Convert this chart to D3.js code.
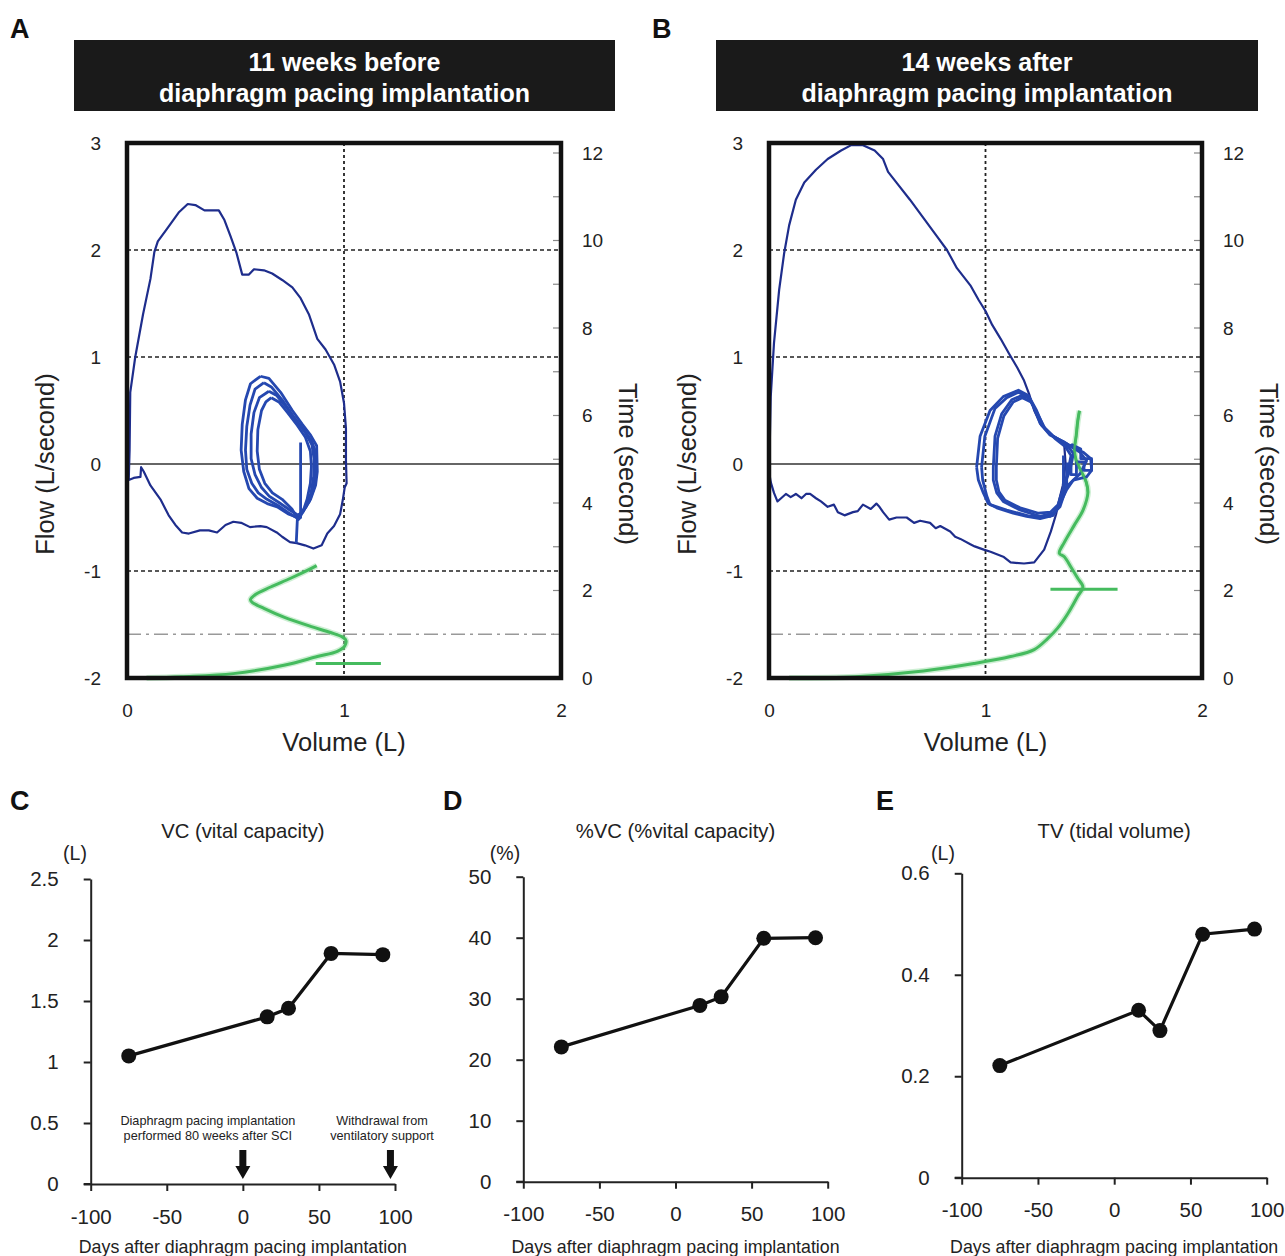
<!DOCTYPE html>
<html><head><meta charset="utf-8">
<script src="https://cdn.jsdelivr.net/npm/d3@7"></script>
<style>
body{margin:0;background:#fff}
svg{display:block}
text{font-family:"Liberation Sans",Arial,Helvetica,sans-serif;fill:#222}
</style>
</head><body>
<svg id="c" width="1285" height="1256"></svg>
<script>
// ---------- DATA ----------
const volTicks = [0, 1, 2];
const flowTicks = [-2, -1, 0, 1, 2, 3];
const timeTicks = [0, 2, 4, 6, 8, 10, 12];
const timeMinorTicks = [1,2,3,4,5,6,7,8,9,10,11,12];
const flowDashed = [-1, 1, 2];
const volDotted = [1];
const timeDashDot = [1];

// Panel A (11 weeks before) : [volume L, flow L/s]
const bigLoopA = [[0.008,-0.15],[0.012,0.13],[0.015,0.67],[0.038,1.00],[0.074,1.40],[0.108,1.73],[0.126,1.98],[0.142,2.08],[0.185,2.20],[0.238,2.35],[0.28,2.43],[0.315,2.42],[0.357,2.37],[0.423,2.37],[0.449,2.28],[0.477,2.13],[0.505,1.97],[0.531,1.77],[0.562,1.77],[0.585,1.82],[0.631,1.81],[0.669,1.78],[0.715,1.72],[0.762,1.65],[0.80,1.55],[0.838,1.40],[0.877,1.17],[0.915,1.07],[0.954,0.93],[0.982,0.77],[1.00,0.57],[1.009,0.33],[1.009,0.03],[1.012,-0.18],[1.003,-0.22],[0.995,-0.33],[0.982,-0.47],[0.954,-0.58],[0.923,-0.65],[0.897,-0.76],[0.859,-0.79],[0.82,-0.76],[0.782,-0.74],[0.751,-0.73],[0.715,-0.68],[0.69,-0.64],[0.644,-0.59],[0.615,-0.58],[0.567,-0.59],[0.526,-0.55],[0.49,-0.54],[0.454,-0.57],[0.415,-0.64],[0.377,-0.62],[0.336,-0.62],[0.285,-0.65],[0.254,-0.64],[0.223,-0.57],[0.192,-0.48],[0.154,-0.33],[0.108,-0.20],[0.077,-0.07],[0.065,-0.03],[0.062,-0.12],[0.031,-0.13],[0.008,-0.15]];
const tidalA1 = [[0.615,0.82],[0.654,0.80],[0.708,0.67],[0.762,0.50],[0.808,0.37],[0.846,0.27],[0.874,0.17],[0.877,-0.07],[0.869,-0.20],[0.846,-0.33],[0.815,-0.43],[0.785,-0.50],[0.746,-0.47],[0.692,-0.40],[0.646,-0.37],[0.60,-0.32],[0.562,-0.23],[0.538,-0.07],[0.526,0.13],[0.531,0.37],[0.546,0.60],[0.569,0.75],[0.615,0.82]];
const tidalA2 = [[0.631,0.76],[0.665,0.72],[0.715,0.60],[0.765,0.45],[0.81,0.33],[0.85,0.22],[0.868,0.12],[0.87,-0.08],[0.862,-0.22],[0.84,-0.35],[0.81,-0.45],[0.78,-0.50],[0.74,-0.45],[0.69,-0.38],[0.645,-0.33],[0.605,-0.27],[0.575,-0.18],[0.552,-0.05],[0.546,0.13],[0.552,0.35],[0.567,0.55],[0.59,0.70],[0.631,0.76]];
const tidalA3 = [[0.654,0.68],[0.69,0.64],[0.735,0.53],[0.78,0.40],[0.82,0.30],[0.852,0.18],[0.862,0.05],[0.86,-0.12],[0.848,-0.27],[0.825,-0.40],[0.79,-0.48],[0.75,-0.43],[0.70,-0.36],[0.655,-0.30],[0.62,-0.22],[0.59,-0.10],[0.572,0.05],[0.572,0.28],[0.585,0.48],[0.61,0.62],[0.654,0.68]];
const tidalA4 = [[0.665,0.62],[0.70,0.58],[0.74,0.48],[0.785,0.36],[0.822,0.25],[0.845,0.12],[0.85,-0.02],[0.845,-0.18],[0.83,-0.33],[0.81,-0.45],[0.79,-0.52],[0.76,-0.42],[0.715,-0.33],[0.67,-0.27],[0.635,-0.18],[0.61,-0.05],[0.60,0.12],[0.603,0.32],[0.62,0.50],[0.64,0.58],[0.665,0.62]];
const tidalAExtra = [[0.80,0.20],[0.80,-0.50],[0.785,-0.52],[0.78,-0.74]];
// green time trace : [volume L, time s]
const greenA = [[0.09,0.0],[0.25,0.03],[0.49,0.1],[0.723,0.29],[0.877,0.49],[0.969,0.61],[1.003,0.73],[1.009,0.86],[0.992,0.94],[0.938,1.04],[0.846,1.18],[0.723,1.39],[0.631,1.59],[0.577,1.73],[0.569,1.79],[0.592,1.91],[0.662,2.08],[0.754,2.28],[0.831,2.46],[0.874,2.57]];
const greenBarA = [[0.87,0.33],[1.17,0.33]];

// Panel B (14 weeks after)
const bigLoopB = [[0.0,-0.07],[0.003,0.13],[0.008,0.63],[0.023,1.13],[0.047,1.63],[0.07,1.97],[0.093,2.23],[0.124,2.47],[0.163,2.63],[0.217,2.75],[0.271,2.85],[0.333,2.93],[0.38,2.98],[0.434,2.98],[0.488,2.93],[0.527,2.85],[0.55,2.73],[0.589,2.63],[0.651,2.47],[0.713,2.30],[0.775,2.13],[0.822,2.0],[0.868,1.83],[0.93,1.67],[0.969,1.53],[1.0,1.43],[1.031,1.30],[1.07,1.17],[1.109,1.03],[1.147,0.90],[1.178,0.78],[1.202,0.65],[1.225,0.50],[1.256,0.37],[1.302,0.27],[1.341,0.22],[1.364,0.17],[1.37,0.0],[1.357,-0.20],[1.341,-0.33],[1.326,-0.47],[1.302,-0.63],[1.271,-0.80],[1.225,-0.92],[1.178,-0.93],[1.116,-0.92],[1.085,-0.87],[1.023,-0.82],[0.992,-0.80],[0.95,-0.77],[0.93,-0.75],[0.884,-0.70],[0.86,-0.68],[0.837,-0.63],[0.791,-0.58],[0.77,-0.60],[0.744,-0.55],[0.698,-0.53],[0.67,-0.55],[0.636,-0.50],[0.589,-0.50],[0.555,-0.52],[0.527,-0.45],[0.51,-0.40],[0.496,-0.37],[0.47,-0.42],[0.434,-0.38],[0.41,-0.44],[0.388,-0.45],[0.349,-0.48],[0.318,-0.45],[0.30,-0.38],[0.271,-0.40],[0.24,-0.35],[0.217,-0.32],[0.19,-0.28],[0.171,-0.28],[0.15,-0.32],[0.124,-0.28],[0.10,-0.31],[0.078,-0.28],[0.039,-0.35],[0.023,-0.27],[0.008,-0.17],[0.0,-0.07]];
const tidalB1 = [[0.959,-0.03],[0.975,0.26],[1.021,0.50],[1.082,0.63],[1.152,0.69],[1.198,0.64],[1.221,0.54],[1.252,0.38],[1.298,0.27],[1.359,0.21],[1.406,0.15],[1.452,0.11],[1.486,0.05],[1.49,-0.06],[1.467,-0.12],[1.406,-0.15],[1.375,-0.24],[1.344,-0.37],[1.313,-0.48],[1.252,-0.51],[1.19,-0.49],[1.128,-0.46],[1.052,-0.41],[1.013,-0.37],[0.99,-0.27],[0.967,-0.15],[0.959,-0.03]];
const tidalB2 = [[0.982,-0.03],[0.997,0.26],[1.044,0.52],[1.098,0.62],[1.152,0.67],[1.20,0.62],[1.229,0.51],[1.26,0.36],[1.313,0.26],[1.375,0.19],[1.437,0.11],[1.467,0.03],[1.437,-0.09],[1.375,-0.21],[1.344,-0.40],[1.298,-0.49],[1.206,-0.49],[1.098,-0.43],[1.021,-0.38],[1.006,-0.30],[0.987,-0.15],[0.982,-0.03]];
const tidalB3 = [[1.036,-0.03],[1.044,0.26],[1.075,0.47],[1.121,0.60],[1.167,0.64],[1.206,0.61],[1.236,0.50],[1.267,0.35],[1.313,0.26],[1.375,0.18],[1.406,0.10],[1.39,-0.06],[1.367,-0.18],[1.344,-0.37],[1.313,-0.46],[1.252,-0.49],[1.159,-0.43],[1.082,-0.35],[1.052,-0.27],[1.036,-0.15],[1.036,-0.03]];
const tidalB4 = [[1.05,-0.03],[1.056,0.24],[1.085,0.45],[1.128,0.58],[1.17,0.62],[1.21,0.58],[1.24,0.47],[1.275,0.33],[1.32,0.24],[1.37,0.16],[1.395,0.08],[1.38,-0.08],[1.36,-0.22],[1.335,-0.38],[1.30,-0.45],[1.245,-0.46],[1.16,-0.41],[1.09,-0.34],[1.062,-0.26],[1.05,-0.15],[1.05,-0.03]];
const tidalBCluster = [[1.37,0.15],[1.40,0.18],[1.44,0.14],[1.44,0.05],[1.49,0.05],[1.49,-0.06],[1.455,-0.06],[1.455,0.02],[1.42,0.02],[1.42,-0.10],[1.395,-0.10],[1.395,0.0],[1.375,0.0],[1.375,-0.22],[1.36,-0.22],[1.36,0.08]];
const greenB = [[0.093,0.0],[0.40,0.03],[0.713,0.16],[0.946,0.33],[1.116,0.49],[1.225,0.65],[1.287,0.90],[1.333,1.14],[1.38,1.47],[1.426,1.87],[1.45,2.08],[1.426,2.28],[1.395,2.53],[1.364,2.77],[1.341,2.85],[1.364,3.10],[1.411,3.50],[1.45,3.83],[1.473,4.24],[1.465,4.48],[1.442,4.73],[1.419,4.97],[1.411,5.22],[1.419,5.54],[1.426,5.87],[1.434,6.11]];
const greenBarB = [[1.30,2.03],[1.61,2.03]];

// Bottom panels
const days = [-75, 16, 30, 58, 92];
const vcValues = [1.05, 1.37, 1.44, 1.89, 1.88];
const pctVcValues = [22.1, 28.9, 30.3, 39.9, 40.0];
const tvValues = [0.221, 0.33, 0.29, 0.48, 0.49];
const dayTicks = [-100, -50, 0, 50, 100];
const vcTicks = [0, 0.5, 1, 1.5, 2, 2.5];
const pctTicks = [0, 10, 20, 30, 40, 50];
const tvTicks = [0, 0.2, 0.4, 0.6];
const arrowDays = [0, 97];
const noteDays = [-23, 91.5];
const noteTexts = [["Diaphragm pacing implantation","performed 80 weeks after SCI"],["Withdrawal from","ventilatory support"]];

// ---------- DRAW ----------
const svg = d3.select('#c');
const FONT = '"Liberation Sans",Arial,Helvetica,sans-serif';
const plain = d => String(d);   // hyphen minus, no trailing zeros

function loopPanel(cfg){
  const g = svg.append('g');
  const x = d3.scaleLinear().domain([0,2]).range([cfg.x0, cfg.x1]);
  const y = d3.scaleLinear().domain([-2,3]).range([cfg.y1, cfg.y0]);
  const t = d3.scaleLinear().domain([0,12]).range([cfg.y1, cfg.tTop]);

  svg.append('text').attr('x', cfg.letterX).attr('y', 38).attr('font-size', 27).attr('font-weight','bold').style('fill','#111').text(cfg.letter);
  g.append('rect').attr('x', cfg.bx0).attr('y', 40).attr('width', cfg.bx1-cfg.bx0).attr('height', 71).attr('fill','#1a1a1a');
  const cx = (cfg.bx0+cfg.bx1)/2;
  cfg.title.forEach((s,i)=>{
    g.append('text').attr('x', cx).attr('y', 71 + i*31).attr('text-anchor','middle')
      .attr('font-size', 25).attr('font-weight','bold').style('fill','#fff').text(s);
  });

  g.selectAll('.hd').data(flowDashed).enter().append('line')
    .attr('x1', cfg.x0).attr('x2', cfg.x1).attr('y1', d=>y(d)).attr('y2', d=>y(d))
    .attr('stroke','#222').attr('stroke-width',1.6).attr('stroke-dasharray','4,3');
  g.selectAll('.vd').data(volDotted).enter().append('line')
    .attr('x1', d=>x(d)).attr('x2', d=>x(d)).attr('y1', cfg.y0).attr('y2', cfg.y1)
    .attr('stroke','#222').attr('stroke-width',1.8).attr('stroke-dasharray','3,3');
  g.selectAll('.dd').data(timeDashDot).enter().append('line')
    .attr('x1', cfg.x0).attr('x2', cfg.x1).attr('y1', d=>t(d)).attr('y2', d=>t(d))
    .attr('stroke','#999').attr('stroke-width',1.5).attr('stroke-dasharray','14,5,3,5');
  g.append('line').attr('x1', cfg.x0).attr('x2', cfg.x1).attr('y1', y(0)).attr('y2', y(0))
    .attr('stroke','#333').attr('stroke-width',1.6);

  const fl = d3.line().x(d=>x(d[0])).y(d=>y(d[1]));
  const tl = d3.line().x(d=>x(d[0])).y(d=>t(d[1])).curve(d3.curveCatmullRom);
  const tlin = d3.line().x(d=>x(d[0])).y(d=>t(d[1]));

  g.append('path').attr('d', tl(cfg.green)).attr('fill','none').attr('stroke','#9be0a8').attr('stroke-width',6).attr('opacity',0.5);
  g.append('path').attr('d', tl(cfg.green)).attr('fill','none').attr('stroke','#45bb5e').attr('stroke-width',3);
  g.append('path').attr('d', tlin(cfg.greenBar)).attr('fill','none').attr('stroke','#45bb5e').attr('stroke-width',3);

  g.append('path').attr('d', fl(cfg.big)).attr('fill','none').attr('stroke','#1e2d8c').attr('stroke-width',2.2).attr('stroke-linejoin','round');
  cfg.tidal.forEach(a=>{
    g.append('path').attr('d', fl(a)).attr('fill','none').attr('stroke','#2548b0').attr('stroke-width',2.8).attr('stroke-linejoin','round');
  });
  if(cfg.overlayGreen){
    g.append('path').attr('d', tl(cfg.green.slice(-8))).attr('fill','none').attr('stroke','#45bb5e').attr('stroke-width',2.4).attr('opacity',0.85);
  }

  g.selectAll('.mt').data(timeMinorTicks).enter().append('line')
    .attr('x1', cfg.x1-8).attr('x2', cfg.x1).attr('y1', d=>t(d)).attr('y2', d=>t(d))
    .attr('stroke','#888').attr('stroke-width',1.2);

  g.append('rect').attr('x', cfg.x0).attr('y', cfg.y0).attr('width', cfg.x1-cfg.x0).attr('height', cfg.y1-cfg.y0)
    .attr('fill','none').attr('stroke','#111').attr('stroke-width',4.5);

  const la = d3.axisLeft(y).tickValues(flowTicks).tickSize(0).tickPadding(26).tickFormat(plain);
  const ga = g.append('g').attr('transform',`translate(${cfg.x0},0)`).call(la);
  const ra = d3.axisRight(t).tickValues(timeTicks).tickSize(0).tickPadding(21).tickFormat(plain);
  const gr = g.append('g').attr('transform',`translate(${cfg.x1},0)`).call(ra);
  const ba = d3.axisBottom(x).tickValues(volTicks).tickSize(0).tickPadding(26).tickFormat(plain);
  const gb = g.append('g').attr('transform',`translate(0,${cfg.y1})`).call(ba);
  [ga,gr,gb].forEach(a=>{ a.select('.domain').remove(); a.selectAll('text').attr('font-size',19).attr('font-family',FONT).style('fill','#222'); });

  g.append('text').attr('x', (cfg.x0+cfg.x1)/2).attr('y', 751).attr('text-anchor','middle').attr('font-size',25.5).text('Volume (L)');
  g.append('text').attr('transform',`translate(${cfg.x0-73},${y(0)}) rotate(-90)`).attr('text-anchor','middle').attr('font-size',25.5).text('Flow (L/second)');
  g.append('text').attr('transform',`translate(${cfg.x1+58},${y(0)}) rotate(90)`).attr('text-anchor','middle').attr('font-size',25.5).text('Time (second)');
}

loopPanel({letter:'A', letterX:10, bx0:74, bx1:615, title:['11 weeks before','diaphragm pacing implantation'],
  x0:127, x1:561, y0:143, y1:678, tTop:153,
  big:bigLoopA, tidal:[tidalA1,tidalA2,tidalA3,tidalA4,tidalAExtra], green:greenA, greenBar:greenBarA, overlayGreen:false});
loopPanel({letter:'B', letterX:652, bx0:716, bx1:1258, title:['14 weeks after','diaphragm pacing implantation'],
  x0:769, x1:1202, y0:143, y1:678, tTop:153,
  big:bigLoopB, tidal:[tidalB1,tidalB2,tidalB3,tidalB4,tidalBCluster], green:greenB, greenBar:greenBarB, overlayGreen:true});

function trendPanel(cfg){
  const g = svg.append('g');
  const x = d3.scaleLinear().domain([-100,100]).range([cfg.x0, cfg.x1]);
  const y = d3.scaleLinear().domain(cfg.yDomain).range([cfg.y0, cfg.y1]);
  svg.append('text').attr('x', cfg.letterX).attr('y', 810).attr('font-size', 27).attr('font-weight','bold').style('fill','#111').text(cfg.letter);
  g.append('text').attr('x', x(0)).attr('y', 838).attr('text-anchor','middle').attr('font-size',20.3).text(cfg.title);
  g.append('text').attr('x', cfg.unitX).attr('y', 860).attr('text-anchor','middle').attr('font-size',19.5).text(cfg.unit);

  const ax = d3.axisBottom(x).tickValues(dayTicks).tickSize(7).tickSizeOuter(0).tickPadding(18).tickFormat(plain);
  const ay = d3.axisLeft(y).tickValues(cfg.yTicks).tickSize(7).tickSizeOuter(0).tickPadding(25).tickFormat(plain);
  const gx = g.append('g').attr('transform',`translate(0,${cfg.y0})`).call(ax);
  const gy = g.append('g').attr('transform',`translate(${cfg.x0},0)`).call(ay);
  [gx,gy].forEach(a=>{
    a.select('.domain').attr('stroke','#222').attr('stroke-width',2);
    a.selectAll('.tick line').attr('stroke','#222').attr('stroke-width',2);
    a.selectAll('text').attr('font-size',20.5).attr('font-family',FONT).style('fill','#222');
  });
  g.append('line').attr('x1', cfg.x0-7).attr('x2', cfg.x0).attr('y1', cfg.y0).attr('y2', cfg.y0).attr('stroke','#222').attr('stroke-width',2);
  g.append('text').attr('x', x(0)).attr('y', 1253).attr('text-anchor','middle').attr('font-size',17.8).text('Days after diaphragm pacing implantation');

  const pts = days.map((d,i)=>[d, cfg.values[i]]);
  g.append('path').attr('d', d3.line().x(d=>x(d[0])).y(d=>y(d[1]))(pts)).attr('fill','none').attr('stroke','#111').attr('stroke-width',3.2);
  g.selectAll('.pt').data(pts).enter().append('circle').attr('cx', d=>x(d[0])).attr('cy', d=>y(d[1])).attr('r',7.5).attr('fill','#111');

  if(cfg.notes){
    noteTexts.forEach((lines,i)=>{
      lines.forEach((s,j)=>{
        g.append('text').attr('x', x(noteDays[i])).attr('y', 1125 + j*15).attr('text-anchor','middle').attr('font-size',12.7).text(s);
      });
    });
    arrowDays.forEach(d=>{
      const ax0 = x(d);
      g.append('path').attr('d', `M${ax0-3.5},1150 L${ax0+3.5},1150 L${ax0+3.5},1166 L${ax0+7.5},1166 L${ax0},1179 L${ax0-7.5},1166 L${ax0-3.5},1166 Z`).attr('fill','#111');
    });
  }
}

trendPanel({letter:'C', letterX:10, title:'VC (vital capacity)', unit:'(L)', unitX:75, x0:90.7, x1:395, y0:1184, y1:879, yDomain:[0,2.5], yTicks:vcTicks, values:vcValues, notes:true});
trendPanel({letter:'D', letterX:443, title:'%VC (%vital capacity)', unit:'(%)', unitX:505, x0:523.3, x1:827.7, y0:1181.7, y1:876.7, yDomain:[0,50], yTicks:pctTicks, values:pctVcValues, notes:false});
trendPanel({letter:'E', letterX:876, title:'TV (tidal volume)', unit:'(L)', unitX:943, x0:961.7, x1:1266.7, y0:1177.7, y1:873.3, yDomain:[0,0.6], yTicks:tvTicks, values:tvValues, notes:false});
</script>
</body></html>
